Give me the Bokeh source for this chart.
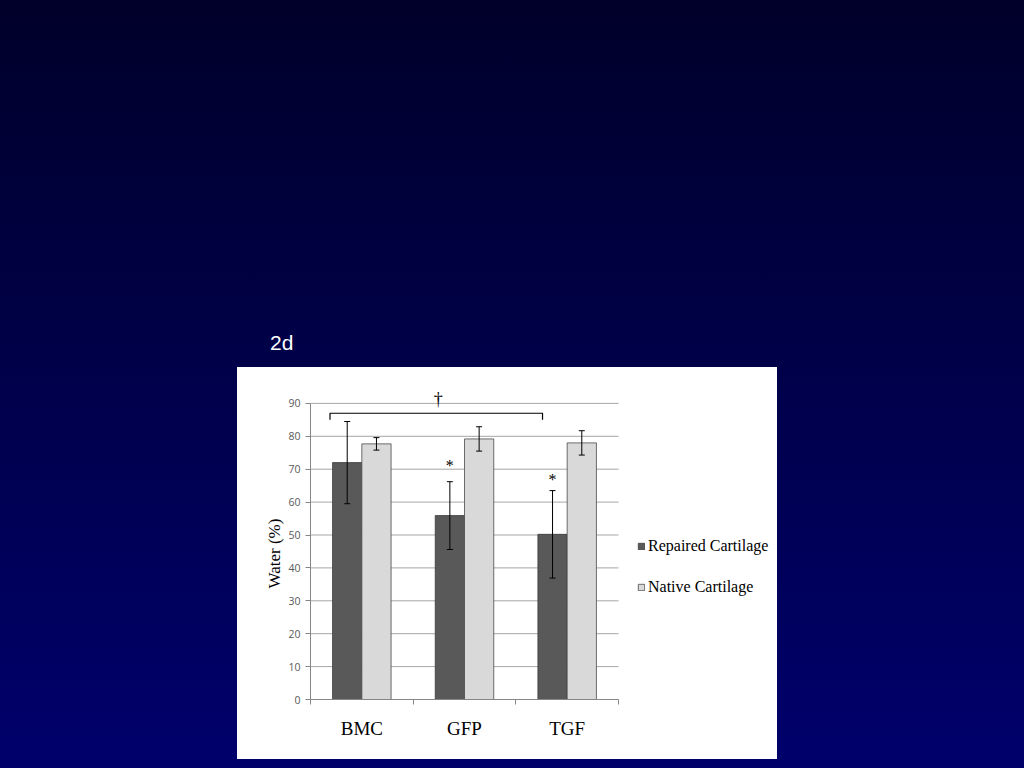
from bokeh.plotting import figure
from bokeh.layouts import column, row
from bokeh.models import (Range1d, FixedTicker, ColumnDataSource, Whisker, TeeHead,
                          Legend, LegendItem, Spacer, GlobalInlineStyleSheet, Title)
from bokeh.core.properties import value
from bokeh.embed import file_html
from bokeh.resources import INLINE

# ---- data ----
categories = ["BMC", "GFP", "TGF"]
series_names = ["Repaired Cartilage", "Native Cartilage"]
repaired = [72.0, 55.9, 50.2]
repaired_err = [12.5, 10.3, 13.3]
native = [77.7, 79.2, 78.0]
native_err = [1.9, 3.7, 3.7]
y_ticks = [0, 10, 20, 30, 40, 50, 60, 70, 80, 90]
y_label = "Water (%)"
panel_label = "2d"

# significance marks
star_text = ["*", "*"]
star_group = [1, 2]          # GFP, TGF repaired bars
star_y = [71.0, 67.0]
dagger_text = ["\u2020"]
dagger_x = [1.245]
dagger_y = [91.3]
bracket_x = [0.19, 0.19, 2.26, 2.26]
bracket_y = [85.0, 87.0, 87.0, 85.0]

# ---- styles ----
DARK = "#595959"
LIGHT = "#d9d9d9"
GRID = "#a6a6a6"
AXIS = "#868686"
SERIF = "Liberation Serif"
BAR_W = 0.285
OFF = 0.1425
N = len(categories)
# plot frame extends to the right so that the legend sits inside it
X_END = N * 467.0 / 308.0

# ---- top area with panel label ----
top = figure(width=1008, height=367, x_range=Range1d(0, 1008), y_range=Range1d(0, 367),
             x_axis_location=None, y_axis_location=None, toolbar_location=None,
             output_backend="svg", min_border=0)
top.background_fill_color = None
top.border_fill_color = None
top.outline_line_color = None
top.grid.visible = False
top.text(x=[269.5], y=[25], text=[panel_label], text_color="white",
         text_font=value("Liberation Sans"), text_font_size="21px",
         text_align="left", text_baseline="alphabetic")

# ---- chart ----
p = figure(width=540, height=392, x_range=Range1d(0, X_END), y_range=Range1d(0, 100),
           toolbar_location=None, output_backend="svg",
           min_border_left=73, min_border_right=0, min_border_top=3, min_border_bottom=60,
           styles={"background-color": "white"})
p.background_fill_color = "white"
p.border_fill_color = "white"
p.outline_line_color = None

centers = [i + 0.5 for i in range(N)]
rep_x = [c - OFF for c in centers]
nat_x = [c + OFF for c in centers]

# horizontal gridlines limited to the category area
p.segment(x0=[0] * len(y_ticks), x1=[N] * len(y_ticks), y0=y_ticks, y1=y_ticks,
          line_color=GRID, line_width=1)

src_r = ColumnDataSource(dict(x=rep_x, top=repaired,
                              upper=[v + e for v, e in zip(repaired, repaired_err)],
                              lower=[v - e for v, e in zip(repaired, repaired_err)]))
src_n = ColumnDataSource(dict(x=nat_x, top=native,
                              upper=[v + e for v, e in zip(native, native_err)],
                              lower=[v - e for v, e in zip(native, native_err)]))

r1 = p.vbar(x="x", top="top", bottom=0, width=BAR_W, source=src_r,
            fill_color=DARK, line_color="#3a3a3a", line_width=0.8)
r2 = p.vbar(x="x", top="top", bottom=0, width=BAR_W, source=src_n,
            fill_color=LIGHT, line_color="#4a4a4a", line_width=0.8)

for src in (src_r, src_n):
    w = Whisker(base="x", upper="upper", lower="lower", source=src,
                line_color="black", line_width=1, level="annotation",
                upper_head=TeeHead(size=6, line_color="black", line_width=1),
                lower_head=TeeHead(size=6, line_color="black", line_width=1))
    p.add_layout(w)

# significance annotations
p.text(x=[rep_x[g] for g in star_group], y=star_y, text=star_text,
       text_font=value(SERIF), text_font_size="16px", text_color="black",
       text_align="center", text_baseline="middle")
p.line(x=bracket_x, y=bracket_y, line_color="black", line_width=1.2)
p.text(x=dagger_x, y=dagger_y, text=dagger_text,
       text_font=value(SERIF), text_font_size="18px", text_color="black",
       text_align="center", text_baseline="middle")

# y axis
p.yaxis.ticker = FixedTicker(ticks=y_ticks)
p.yaxis.bounds = (0, 90)
p.yaxis.axis_line_color = AXIS
p.yaxis.major_tick_line_color = AXIS
p.yaxis.major_tick_out = 5
p.yaxis.major_tick_in = 0
p.yaxis.minor_tick_line_color = None
p.yaxis.major_label_text_font = "Open Sans"
p.yaxis.major_label_text_font_size = "10.5px"
p.yaxis.major_label_text_color = "#595959"
p.yaxis.major_label_standoff = 5

# y axis title, centred on the 0..90 part of the axis
ytitle = Title(text=y_label, align="left", offset=111, standoff=4,
               text_font=SERIF, text_font_size="17px", text_font_style="normal",
               text_color="black")
p.add_layout(ytitle, "left")

p.grid.visible = False

# x axis
p.xaxis.ticker = FixedTicker(ticks=centers, minor_ticks=[float(i) for i in range(N + 1)])
p.xaxis.bounds = (0, N)
p.xaxis.major_label_overrides = {c: name for c, name in zip(centers, categories)}
p.xaxis.major_tick_line_color = None
p.xaxis.major_tick_out = 0
p.xaxis.major_tick_in = 0
p.xaxis.minor_tick_line_color = AXIS
p.xaxis.minor_tick_out = 5
p.xaxis.minor_tick_in = 0
p.xaxis.axis_line_color = AXIS
p.xaxis.major_label_text_font = SERIF
p.xaxis.major_label_text_font_size = "19px"
p.xaxis.major_label_text_color = "black"
p.xaxis.major_label_standoff = 13

legend = Legend(items=[LegendItem(label=series_names[0], renderers=[r1]),
                       LegendItem(label=series_names[1], renderers=[r2])],
                location=(327, 102))
legend.background_fill_alpha = 0
legend.border_line_color = None
legend.padding = 0
legend.margin = 0
legend.spacing = 21
legend.glyph_width = 8
legend.glyph_height = 8
legend.label_height = 20
legend.label_standoff = 3
legend.label_text_font = SERIF
legend.label_text_font_size = "16px"
legend.label_text_color = "black"
p.add_layout(legend)

css = GlobalInlineStyleSheet(css="html{height:100%;background:linear-gradient(to bottom,#00002a 0%,#00006c 100%) no-repeat;}")
layout = column(top, row(Spacer(width=237, height=392), p), stylesheets=[css])

open("out.html", "w").write(file_html(layout, INLINE))
